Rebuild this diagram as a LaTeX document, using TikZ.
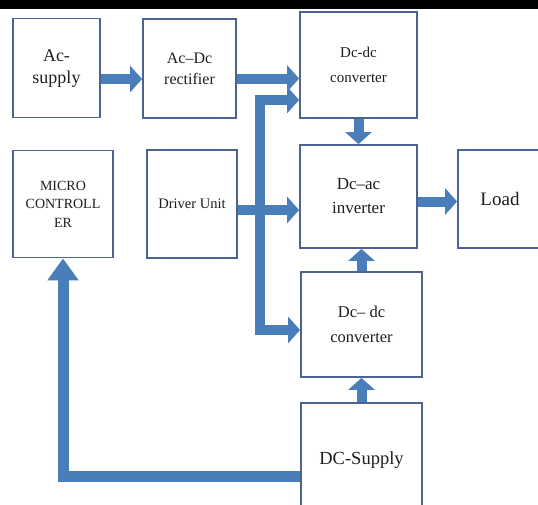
\documentclass[tikz,border=0pt]{standalone}
\usepackage{fontspec}
\setmainfont{Liberation Serif}
\usetikzlibrary{arrows.meta}
\definecolor{pwFlow}{HTML}{4A7EBB}
\definecolor{pwEdge}{HTML}{4B6590}
\definecolor{pwInk}{HTML}{1E1E1E}
\newcommand{\pwfont}[2]{\fontsize{#1}{#2}\selectfont}
\tikzset{
  pw diagram/.style={x=1pt, y=-1pt, text=pwInk},
  pw box/.style={draw=pwEdge, fill=white, line width=1.8pt,
    align=center, inner sep=2pt},
  pw arrow/.style={-{Triangle[width=26pt,length=12pt]}, draw=pwFlow,
    line width=10pt, line join=miter},
  pw bus/.style={draw=pwFlow, line width=10pt, line join=miter},
  pw feedback/.style={-{Triangle[width=30pt,length=22pt]}, draw=pwFlow,
    line width=11pt, line join=miter}
}
\begin{document}
\begin{tikzpicture}[pw diagram]
\useasboundingbox (0,0) rectangle (538,504);
\clip (0,0) rectangle (538,504);
\fill[white] (0,0) rectangle (538,504);
\fill[black] (0,0) rectangle (538,9);
% blocks
\node[pw box,minimum width=87pt,minimum height=99pt,font=\pwfont{18}{22}] (acs) at (56.5,68) {Ac-\\supply};
\node[pw box,minimum width=93pt,minimum height=99pt,font=\pwfont{16}{21}] (rect) at (189.5,68.5) {Ac--Dc\\rectifier};
\node[pw box,minimum width=100pt,minimum height=107pt,font=\pwfont{14}{18.5}] (mcu) at (63,204) {MICRO\\CONTROLL\\ER};
\node[pw box,minimum width=90pt,minimum height=108pt,font=\pwfont{14.5}{18}] (drv) at (192,204) {Driver Unit};
\node[pw box,minimum width=117pt,minimum height=106pt,font=\pwfont{15}{25}] (dcTop) at (358.5,65) {Dc-dc\\converter};
\node[pw box,minimum width=117pt,minimum height=103pt,font=\pwfont{17}{24}] (inv) at (358.5,196.5) {Dc--ac\\inverter};
\node[pw box,minimum width=84pt,minimum height=98pt,font=\pwfont{19}{22}] (load) at (500,199) {Load};
\node[pw box,minimum width=121pt,minimum height=105pt,font=\pwfont{16.5}{25}] (dcBot) at (361.5,324.5) {Dc-- dc\\converter};
\node[pw box,minimum width=121pt,minimum height=114pt,font=\pwfont{18.5}{22}] (dcs) at (361.5,460) {DC-Supply};
% flow
\coordinate (a1) at ([yshift=-11pt]acs.east);
\coordinate (r1) at ([yshift=-10pt]rect.east);
\coordinate (d1) at ([yshift=-6pt]drv.east);
\coordinate (i1) at ([yshift=-5pt]inv.east);
\coordinate (busT) at (260,100);
\coordinate (busB) at (260,330);
\coordinate (f1) at ([yshift=-16pt]dcs.west);
\draw[pw arrow] (a1) -- (a1 -| rect.west);
\draw[pw arrow] (r1) -- (r1 -| dcTop.west);
\draw[pw bus] (busT) -- (busB);
\draw[pw arrow] ([xshift=-5pt]busT) -- (busT -| dcTop.west);
\draw[pw arrow] ([xshift=-5pt]busB) -- (busB -| dcBot.west);
\draw[pw arrow] (d1) -- (d1 -| inv.west);
\draw[pw arrow] (i1) -- (i1 -| load.west);
\draw[pw arrow] (dcTop.south) -- (inv.north);
\draw[pw arrow] (dcBot.north) -- (dcBot.north |- inv.south);
\draw[pw arrow] (dcs.north) -- (dcBot.south);
\draw[pw feedback] (f1) -| (mcu.south);
\end{tikzpicture}
\end{document}
